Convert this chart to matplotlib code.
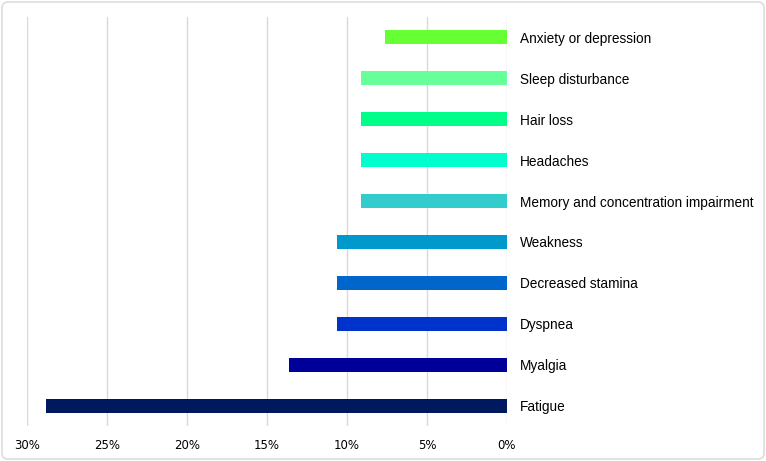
import matplotlib.pyplot as plt
from matplotlib.patches import FancyBboxPatch
from matplotlib.ticker import FuncFormatter

# symptoms, bottom to top
symptoms = ["Fatigue", "Myalgia", "Dyspnea", "Decreased stamina", "Weakness",
            "Memory and concentration impairment", "Headaches", "Hair loss",
            "Sleep disturbance", "Anxiety or depression"]
percent = [28.8, 13.6, 10.6, 10.6, 10.6, 9.1, 9.1, 9.1, 9.1, 7.6]
colors = ["#00195E", "#000099", "#0033CC", "#0066CC", "#0099CC",
          "#33CCCC", "#00FFCC", "#00FF88", "#66FF99", "#66FF33"]
xticks = [0, 5, 10, 15, 20, 25, 30]

fig = plt.figure(figsize=(7.66, 4.61), dpi=100)
ax = fig.add_axes([27/766, 1 - 426/461, 480/766, 409/461])

ax.barh(range(len(symptoms)), percent, height=0.34, color=colors, zorder=3)
ax.set_xlim(30, 0)
ax.set_ylim(-0.5, len(symptoms) - 0.5)
ax.set_xticks(xticks)
ax.xaxis.set_major_formatter(FuncFormatter(lambda v, p: f"{v:.0f}%"))
ax.grid(axis="x", color="#D9D9D9", linewidth=1, zorder=0)

ax.yaxis.tick_right()
ax.set_yticks(range(len(symptoms)))
ax.set_yticklabels(symptoms, fontsize=9.8, family="Liberation Sans")
ax.tick_params(axis="y", length=0, pad=9)
ax.tick_params(axis="x", length=0, pad=9, labelsize=8.5)
for s in ax.spines.values():
    s.set_visible(False)

# light rounded frame around the chart
fig.patches.append(FancyBboxPatch((2, 2), 762, 457, boxstyle="round,pad=0,rounding_size=6",
                                  transform=None, fill=False, edgecolor="#DDDDDD",
                                  linewidth=1.2))

fig.savefig("out.png", dpi=100)
